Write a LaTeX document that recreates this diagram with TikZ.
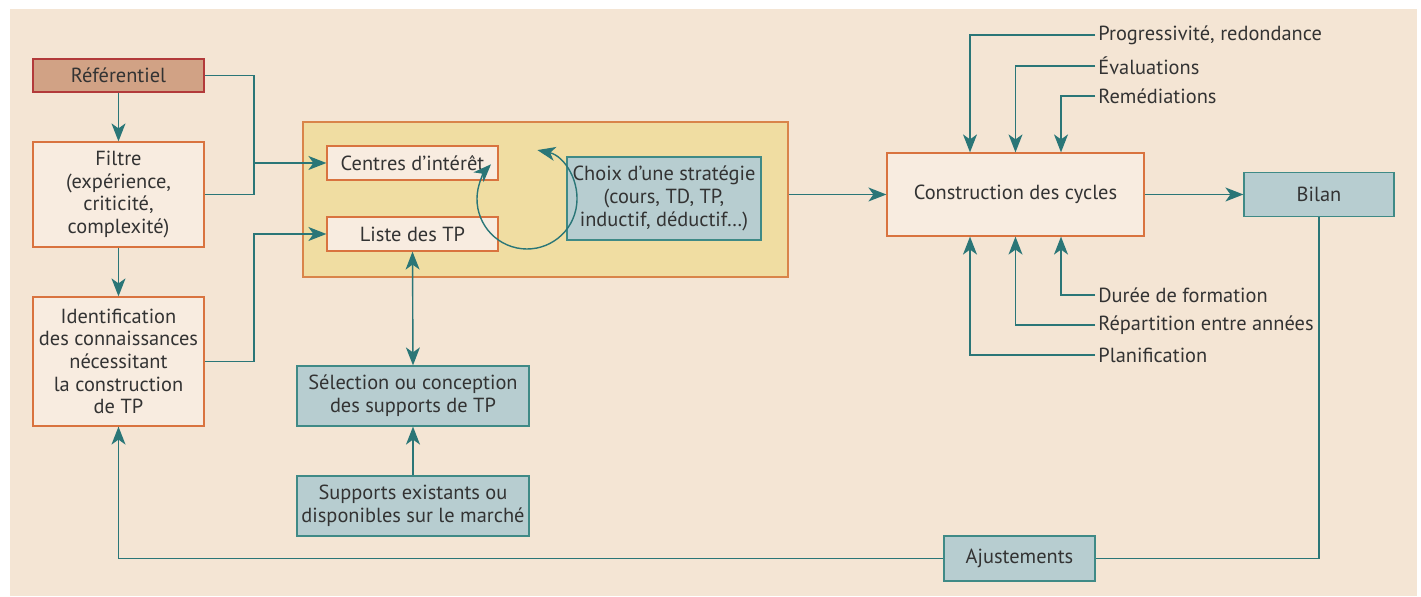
\documentclass[tikz,border=0pt]{standalone}
\usepackage{fontspec}
\setmainfont{PT Sans}
\usetikzlibrary{arrows.meta}
\definecolor{fond}{HTML}{F4E5D4}
\definecolor{creme}{HTML}{F8ECE0}
\definecolor{orangeb}{HTML}{D9733F}
\definecolor{tan}{HTML}{D1A285}
\definecolor{rougeb}{HTML}{B23A3A}
\definecolor{jaune}{HTML}{F0DDA2}
\definecolor{jauneb}{HTML}{D9844A}
\definecolor{bleu}{HTML}{B7CDD0}
\definecolor{bleub}{HTML}{3F8A86}
\definecolor{sarc}{HTML}{2A7677}
\definecolor{texte}{HTML}{333333}
\begin{document}
\begin{tikzpicture}[x=0.5pt,y=-0.5pt,box/.style={draw,line width=0.6pt,inner sep=0pt,align=center,text=texte,font=\fontsize{10.2}{11.3}\selectfont},boxC/.style={box,fill=creme,draw=orangeb},boxR/.style={box,fill=tan,draw=rougeb},boxB/.style={box,fill=bleu,draw=bleub},lab/.style={anchor=west,inner sep=1.5pt,text=texte,font=\fontsize{10.2}{11.3}\selectfont},arr/.style={draw=sarc,line width=0.7pt,-{Stealth[length=9pt,width=7pt,inset=2.5pt]}},lin/.style={draw=sarc,line width=0.7pt}]
\def\dc{22.75pt};
\def\dd{45.5pt};

\useasboundingbox (0,0) rectangle (1421,597);
\fill[fond] (10,9) rectangle (1417,596);

\node[boxR,minimum width=85.5pt,minimum height=16.5pt] (ref) at (118.5,75.5) {Référentiel};
\node[boxC,minimum width=85.5pt,minimum height=52.5pt] (filtre) at (118.5,194.5) {Filtre\\(expérience,\\criticité,\\complexité)};
\node[boxC,minimum width=85.5pt,minimum height=64.5pt] (ident) at (118.5,361.5) {Identification\\des connaissances\\nécessitant\\la construction\\de TP};
\draw[arr] (ref.south) -- (filtre.north);
\draw[arr] (filtre.south) -- (ident.north);

\node[box,fill=jaune,draw=jauneb,minimum width=242.5pt,minimum height=77.5pt] (zone) at (545.5,199.5) {};
\node[boxC,minimum width=85.5pt,minimum height=17pt] (centres) at (412.5,163) {Centres d’intérêt};
\node[boxC,minimum width=85.5pt,minimum height=17pt] (liste) at (412.5,234) {Liste des TP};
\node[boxB,minimum width=97pt,minimum height=41.5pt] (choix) at (664,198.5) {Choix d’une stratégie\\(cours, TD, TP,\\inductif, déductif…)};
\coordinate (cyc) at (527,199);
\draw[arr,{Stealth[length=9pt,width=7pt,inset=2.5pt]}-{Stealth[length=9pt,width=7pt,inset=2.5pt]}] ([shift={(78:25pt)}]cyc) arc[start angle=78,end angle=-224,radius=25pt];

\draw[lin] (ref.east) -| (254,162);
\draw[arr] (filtre.east) -| (254,163) -- (centres.west);
\draw[arr] (ident.east) -| (254,234) -- (liste.west);

\node[boxB,minimum width=116pt,minimum height=30pt] (select) at (413,396) {Sélection ou conception\\des supports de TP};
\node[boxB,minimum width=116pt,minimum height=30pt] (supp) at (413,506) {Supports existants ou\\disponibles sur le marché};
\draw[arr,{Stealth[length=9pt,width=7pt,inset=2.5pt]}-{Stealth[length=9pt,width=7pt,inset=2.5pt]}] (liste.south) -- (select.north);
\draw[arr] (supp.north) -- (select.south);

\node[boxC,minimum width=128.5pt,minimum height=41.5pt] (cycles) at (1015.5,194.5) {Construction des cycles};
\node[boxB,minimum width=75pt,minimum height=22pt] (bilan) at (1319,194.5) {Bilan};
\node[boxB,minimum width=75.5pt,minimum height=22.5pt] (ajust) at (1019.5,558.5) {Ajustements};
\draw[arr] (zone.east |- cycles.west) -- (cycles.west);
\draw[arr] (cycles.east) -- (bilan.west);
\draw[lin] (bilan.south) |- (ajust.east);
\draw[arr] (ajust.west) -| (ident.south);

% entrees du haut
\node[lab] (prog) at (1095,35) {Progressivité, redondance};
\node[lab] (eval) at (1095,66) {Évaluations};
\node[lab] (remed) at (1095,96) {Remédiations};
\draw[arr] (prog.west) -| ([xshift=-\dc]cycles.north);
\draw[arr] (eval.west) -| (cycles.north);
\draw[arr] (remed.west) -| ([xshift=\dc]cycles.north);

% entrees du bas
\node[lab] (duree) at (1095,295) {Durée de formation};
\node[lab] (repart) at (1095,325) {Répartition entre années};
\node[lab] (plan) at (1095,355) {Planification};
\draw[arr] (duree.west) -| ([xshift=\dc]cycles.south);
\draw[arr] (repart.west) -| (cycles.south);
\draw[arr] (plan.west) -| ([xshift=-\dc]cycles.south);
\end{tikzpicture}
\end{document}
